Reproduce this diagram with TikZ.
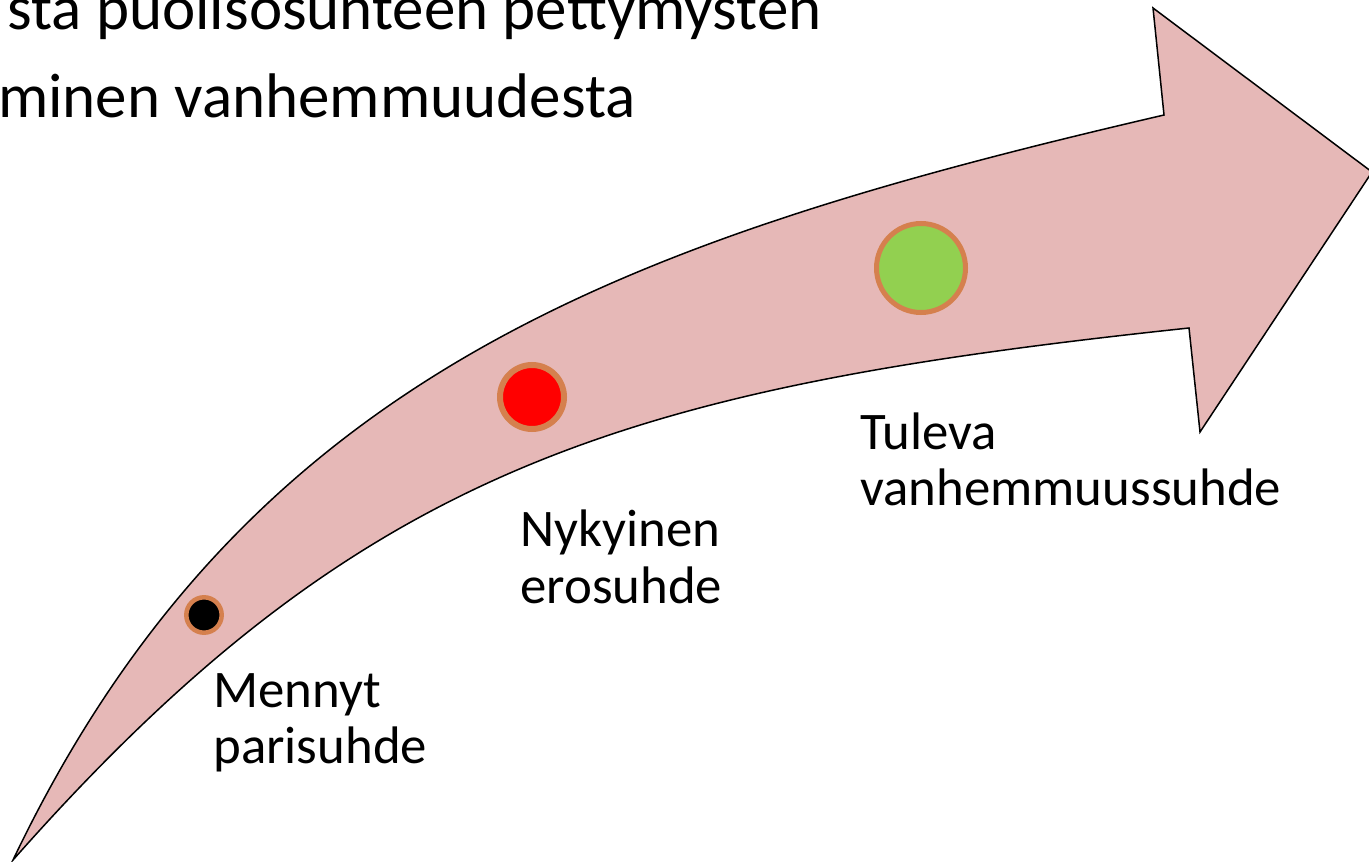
\documentclass[tikz,border=0pt]{standalone}
\usepackage{fontspec}
\setmainfont{Carlito}
\definecolor{arrowfill}{RGB}{230,184,183}
\definecolor{ringcol}{RGB}{213,128,78}
\definecolor{dotred}{RGB}{255,0,0}
\definecolor{dotgreen}{RGB}{146,208,80}
\begin{document}
\begin{tikzpicture}[x=0.5pt,y=-0.5pt,
  arrowshape/.style={fill=arrowfill,draw=black,line width=0.75pt,line join=miter},
  ring/.style={circle,draw=ringcol,inner sep=0pt},
  bodytext/.style={anchor=base west,inner sep=0pt,font=\fontsize{26.4}{28}\selectfont},
  titletext/.style={anchor=base east,inner sep=0pt,font=\fontsize{31.5}{38}\selectfont}]
\useasboundingbox (0,0) rectangle (1369,861);
\clip (0,0) rectangle (1369,861);
\fill[white] (0,0) rectangle (1369,861);
% title (cut at the left edge)
\node[titletext] (title1) at (822,30) {sta puolisosunteen pettymysten};
\node[titletext] (title2) at (636,118) {minen vanhemmuudesta};
% curved arrow
\draw[arrowshape] (13,860) .. controls (245,374) and (626,240) .. (1164,115)
  -- (1153,8) -- (1372,172) -- (1200,432) -- (1189,328)
  .. controls (625,388) and (361,466) .. (13,860) -- cycle;
% dots
\node[ring,fill=black,line width=2.25pt,minimum size=17.7pt] (past) at (204,615) {};
\node[ring,fill=dotred,line width=3pt,minimum size=32pt] (present) at (532,397) {};
\node[ring,fill=dotgreen,line width=2.5pt,minimum size=44.5pt] (future) at (921,268) {};
% labels
\node[bodytext] (mennyt1) at (213,707) {Mennyt};
\node[bodytext] (mennyt2) at (213,763) {parisuhde};
\node[bodytext] (nyky1) at (520,546) {Nykyinen};
\node[bodytext] (nyky2) at (520,603) {erosuhde};
\node[bodytext] (tuleva1) at (860,449) {Tuleva};
\node[bodytext] (tuleva2) at (860,505) {vanhemmuussuhde};
\end{tikzpicture}
\end{document}
